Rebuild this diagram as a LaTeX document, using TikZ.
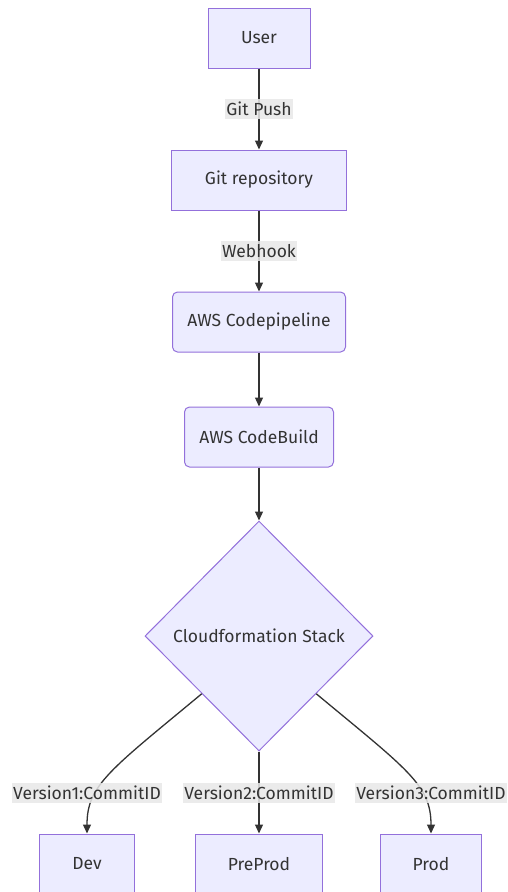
\documentclass[tikz,border=0pt]{standalone}
\usepackage{fontspec}
\setmainfont{Fira Sans}
\usetikzlibrary{shapes.geometric, arrows.meta}
\definecolor{boxfill}{HTML}{ECECFF}
\definecolor{boxline}{HTML}{9370DB}
\definecolor{edgeline}{HTML}{333333}
\definecolor{labelbg}{HTML}{E8E8E8}
\tikzstyle{stepbox} = [rectangle, draw=boxline, fill=boxfill, line width=1pt, text=edgeline, minimum height=60pt]
\tikzstyle{roundbox} = [stepbox, rounded corners=5pt]
\tikzstyle{decision} = [diamond, draw=boxline, fill=boxfill, line width=1pt, text=edgeline, aspect=1, inner sep=0pt, minimum width=228pt, minimum height=230pt]
\tikzstyle{arrow} = [line width=1.3pt, draw=edgeline, -{Triangle[length=9pt,width=8pt]}]
\tikzstyle{edgelabel} = [fill=labelbg, fill opacity=0.85, text opacity=1, text=edgeline, inner xsep=1pt, inner ysep=3pt]

\begin{document}
\begin{tikzpicture}[x=1pt,y=-1pt,font=\fontsize{17.5pt}{21pt}\selectfont]
        \useasboundingbox (0,0) rectangle (507,892);
        % \draw[step=50pt,gray,very thin] (0,0) grid (507,892);
        \node[stepbox, minimum width=102pt] (user) at (259,38) {User};
        \node[stepbox, minimum width=175pt] (repo) at (259,180) {Git repository};
        \node[roundbox, minimum width=173pt] (pipeline) at (259,322) {AWS Codepipeline};
        \node[roundbox, minimum width=149pt] (codebuild) at (259,437) {AWS CodeBuild};
        \node[decision] (stack) at (259,636) {Cloudformation Stack};
        \node[stepbox, minimum width=95pt] (dev) at (87,864) {Dev};
        \node[stepbox, minimum width=127pt] (preprod) at (259,864) {PreProd};
        \node[stepbox, minimum width=101pt] (prod) at (431,864) {Prod};
        \draw[arrow] (user) -- node[edgelabel] (push) {Git Push} (repo);
        \draw[arrow] (repo) -- node[edgelabel] (hook) {Webhook} (pipeline);
        \draw[arrow] (pipeline) -- (codebuild);
        \draw[arrow] (codebuild) -- (stack);
        \draw[arrow] (stack.south west) .. controls (110,770) and (87,785) .. (dev.north);
        \draw[arrow] (stack) -- (preprod);
        \draw[arrow] (stack.south east) .. controls (408,770) and (431,785) .. (prod.north);
        \node[edgelabel] (ver1) at (87,793) {Version1:CommitID};
        \node[edgelabel] (ver2) at (259,793) {Version2:CommitID};
        \node[edgelabel] (ver3) at (431,793) {Version3:CommitID};
    \end{tikzpicture}
\end{document}
